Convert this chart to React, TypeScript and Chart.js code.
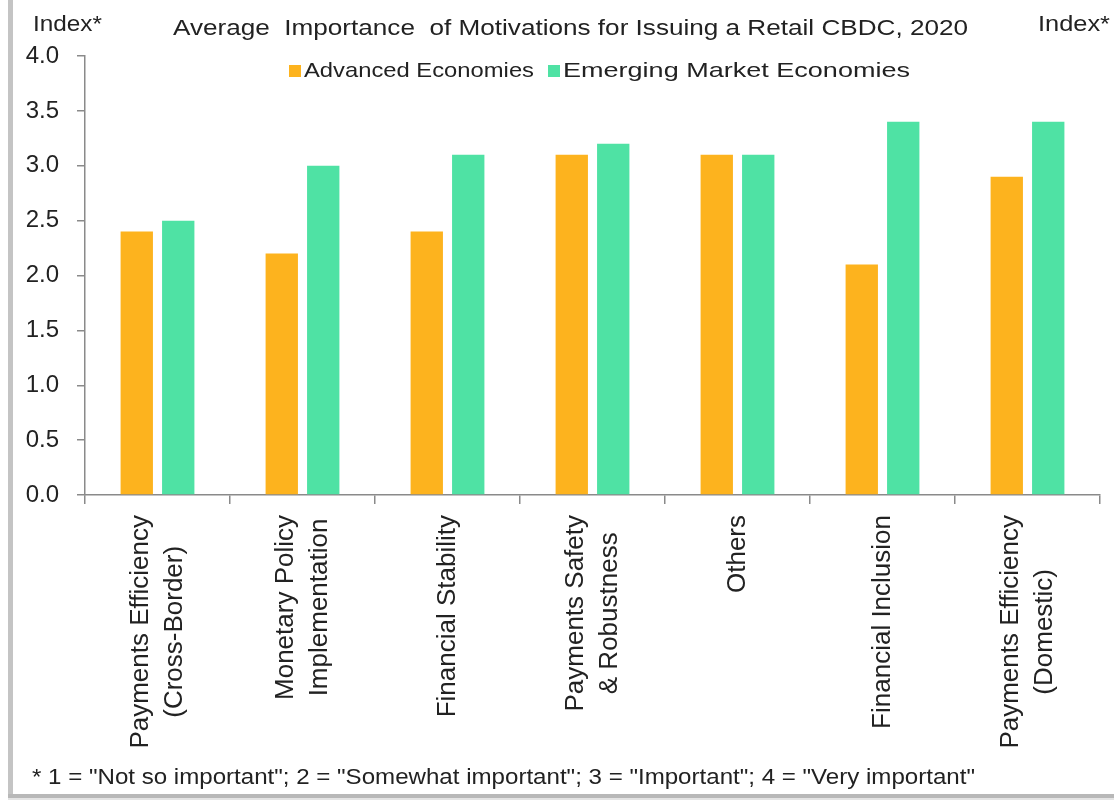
import React, { useEffect, useLayoutEffect, useRef } from "react";
import { Chart, registerables } from "chart.js";

Chart.register(...registerables);

const FONT = '"Liberation Sans", Arial, Helvetica, sans-serif';
const TEXT = "#222222";
const AXIS = "#8a8a8a";

// Data
const categories: string[][] = [
  ["Payments Efficiency", "(Cross-Border)"],
  ["Monetary Policy", "Implementation"],
  ["Financial Stability"],
  ["Payments Safety", "& Robustness"],
  ["Others"],
  ["Financial Inclusion"],
  ["Payments Efficiency", "(Domestic)"],
];
const advancedEconomies = [2.4, 2.2, 2.4, 3.1, 3.1, 2.1, 2.9];
const emergingEconomies = [2.5, 3.0, 3.1, 3.2, 3.1, 3.4, 3.4];
const seriesNames = ["Advanced Economies", "Emerging Market Economies"];
const seriesColors = ["#FDB31E", "#4FE2A4"];
const yMin = 0;
const yMax = 4;
const yStep = 0.5;

const titleText = "Average  Importance  of Motivations for Issuing a Retail CBDC, 2020";
const unitText = "Index*";
const footnoteText =
  '* 1 = "Not so important"; 2 = "Somewhat important"; 3 = "Important"; 4 = "Very important"';

// Rotated, centred multi-line category labels drawn under the x axis
const categoryLabelPlugin = {
  id: "categoryLabels",
  afterDraw(chart: any) {
    const { ctx } = chart;
    const x = chart.scales.x;
    const labels = chart.data.labels as (string | string[])[];
    ctx.save();
    ctx.font = `26px ${FONT}`;
    ctx.fillStyle = TEXT;
    ctx.textAlign = "center";
    ctx.textBaseline = "middle";
    labels.forEach((lab, i) => {
      const lines = Array.isArray(lab) ? lab : [lab];
      const cx = x.getPixelForValue(i);
      const maxW = Math.max(...lines.map((l) => ctx.measureText(l).width));
      const cy = x.top + 20 + maxW / 2;
      ctx.save();
      ctx.translate(cx, cy);
      ctx.rotate(-Math.PI / 2);
      lines.forEach((l, k) => {
        const off = (k - (lines.length - 1) / 2) * 34;
        ctx.fillText(l, 0, off);
      });
      ctx.restore();
    });
    ctx.restore();
  },
};

function FitText(props: {
  text: string;
  left: number;
  top: number;
  width: number;
  size: number;
}) {
  const ref = useRef<HTMLSpanElement>(null);
  useLayoutEffect(() => {
    const el = ref.current;
    if (!el) return;
    el.style.transform = "none";
    const w = el.getBoundingClientRect().width;
    if (w > 0) el.style.transform = `scaleX(${props.width / w})`;
  }, [props.text, props.width, props.size]);
  return (
    <span
      ref={ref}
      style={{
        position: "absolute",
        left: props.left,
        top: props.top,
        fontSize: props.size,
        lineHeight: 1,
        whiteSpace: "pre",
        transformOrigin: "0 0",
        fontFamily: FONT,
        color: TEXT,
      }}
    >
      {props.text}
    </span>
  );
}

export default function App() {
  const canvasRef = useRef<HTMLCanvasElement>(null);

  useEffect(() => {
    const canvas = canvasRef.current;
    if (!canvas) return;
    const chart = new Chart(canvas, {
      type: "bar",
      data: {
        labels: categories,
        datasets: [
          {
            label: seriesNames[0],
            data: advancedEconomies,
            backgroundColor: seriesColors[0],
            borderWidth: 0,
            categoryPercentage: 0.572,
            barPercentage: 0.78,
          },
          {
            label: seriesNames[1],
            data: emergingEconomies,
            backgroundColor: seriesColors[1],
            borderWidth: 0,
            categoryPercentage: 0.572,
            barPercentage: 0.78,
          },
        ],
      },
      options: {
        responsive: false,
        animation: false,
        layout: { padding: { left: 0, right: 14, top: 56, bottom: 0 } },
        plugins: {
          legend: { display: false },
          title: { display: false },
          tooltip: { enabled: false },
        },
        scales: {
          x: {
            ticks: { display: false },
            grid: {
              offset: true,
              drawOnChartArea: false,
              drawTicks: true,
              tickLength: 9,
              color: AXIS,
              lineWidth: 1.5,
            },
            border: { color: AXIS, width: 1.5 },
            afterFit: (scale: any) => {
              scale.height = 305;
            },
          },
          y: {
            min: yMin,
            max: yMax,
            ticks: {
              stepSize: yStep,
              padding: 18,
              color: TEXT,
              font: { family: FONT, size: 24 },
              callback: (v: any) => Number(v).toFixed(1),
            },
            grid: {
              drawOnChartArea: false,
              drawTicks: true,
              tickLength: 8,
              color: AXIS,
              lineWidth: 1.5,
            },
            border: { color: AXIS, width: 1.5 },
            afterFit: (scale: any) => {
              scale.width = 85;
            },
          },
        },
      },
      plugins: [categoryLabelPlugin],
    });
    return () => chart.destroy();
  }, []);

  return (
    <div
      style={{
        position: "absolute",
        left: 0,
        top: 0,
        width: 1114,
        height: 800,
        background: "#ffffff",
        overflow: "hidden",
      }}
    >
      <canvas
        ref={canvasRef}
        width={1114}
        height={800}
        style={{ position: "absolute", left: 0, top: 0, display: "block" }}
      />
      {/* frame */}
      <div style={{ position: "absolute", left: 8, top: 0, width: 5, height: 797, background: "#c4c4c4" }} />
      <div style={{ position: "absolute", left: 8, top: 794, width: 1106, height: 4, background: "#b8b8b8" }} />
      <div style={{ position: "absolute", left: 8, top: 798, width: 1106, height: 2, background: "#e4e4e4" }} />

      <FitText text={unitText} left={33} top={13} width={69} size={22} />
      <FitText text={unitText} left={1038} top={13} width={72} size={22} />
      <FitText text={titleText} left={173} top={17} width={795} size={22} />

      {/* legend */}
      <div style={{ position: "absolute", left: 289, top: 65, width: 12, height: 12, background: seriesColors[0] }} />
      <FitText text={seriesNames[0]} left={304} top={59} width={230} size={21} />
      <div style={{ position: "absolute", left: 548, top: 65, width: 12, height: 12, background: seriesColors[1] }} />
      <FitText text={seriesNames[1]} left={563} top={59} width={347} size={21} />

      <FitText text={footnoteText} left={32} top={766} width={943} size={22} />
    </div>
  );
}
